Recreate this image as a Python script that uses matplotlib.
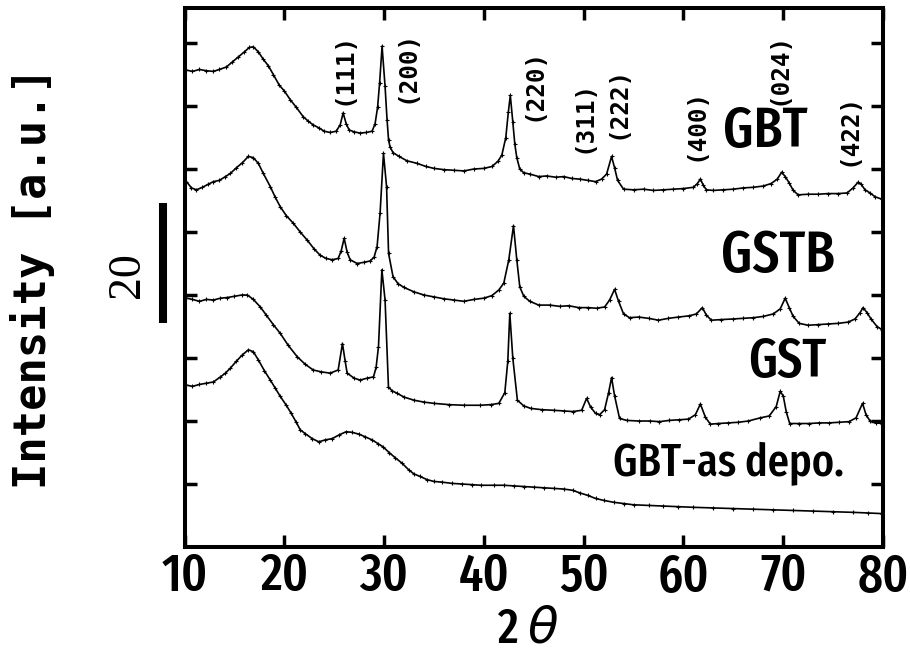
import matplotlib
matplotlib.use("Agg")
import matplotlib.pyplot as plt
import matplotlib.transforms as mtransforms

# ---------------- data ----------------
GBT_X = [10.2, 10.8, 11.5, 12.2, 12.9, 13.5, 14.2, 14.8, 15.4, 16.0, 16.5, 16.9, 17.4, 17.9,
         18.4, 18.9, 19.5, 20.0, 20.6, 21.2, 21.9, 22.4, 22.9, 23.5, 24.0, 24.6, 25.2, 25.6,
         25.9, 26.2, 26.5, 27.0, 27.6, 28.2, 28.8, 29.1, 29.35, 29.55, 29.8, 30.1, 30.3, 30.45,
         30.6, 30.9, 31.5, 32.3, 33.3, 34.2, 35.0, 36.0, 37.0, 38.0, 39.0, 40.0, 40.8, 41.4,
         41.8, 42.2, 42.45, 42.65, 42.9, 43.1, 43.3, 43.6, 44.0, 44.6, 45.5, 46.3, 47.2, 48.0,
         48.8, 49.6, 50.4, 51.2, 51.8, 52.3, 52.8, 53.1, 53.4, 54.0, 55.0, 56.0, 57.0, 58.0,
         59.0, 60.0, 61.0, 61.4, 61.7, 62.0, 62.3, 63.0, 64.0, 65.0, 66.0, 67.0, 68.0, 68.8,
         69.4, 69.85, 70.2, 70.6, 71.0, 71.5, 72.5, 73.5, 74.5, 75.5, 76.4, 77.0, 77.5, 77.8,
         78.2, 78.7, 79.2, 79.9]
GBT_Y = [7.57, 7.55, 7.58, 7.56, 7.55, 7.58, 7.62, 7.70, 7.78, 7.86, 7.93, 7.94, 7.86, 7.74,
         7.64, 7.50, 7.33, 7.24, 7.10, 6.98, 6.83, 6.76, 6.70, 6.65, 6.60, 6.58, 6.60, 6.70,
         6.89, 6.72, 6.62, 6.59, 6.57, 6.58, 6.60, 6.72, 6.98, 7.36, 7.95, 7.31, 6.78, 6.46,
         6.35, 6.26, 6.20, 6.13, 6.09, 6.04, 6.01, 5.99, 5.98, 5.97, 6.00, 6.01, 6.04, 6.12,
         6.22, 6.50, 6.90, 7.17, 6.75, 6.40, 6.18, 6.00, 5.94, 5.92, 5.88, 5.89, 5.87, 5.88,
         5.85, 5.84, 5.82, 5.80, 5.84, 5.92, 6.20, 6.02, 5.82, 5.68, 5.67, 5.68, 5.66, 5.67,
         5.68, 5.69, 5.71, 5.77, 5.84, 5.74, 5.67, 5.66, 5.67, 5.68, 5.70, 5.71, 5.73, 5.77,
         5.84, 5.95, 5.88, 5.78, 5.66, 5.59, 5.60, 5.60, 5.61, 5.61, 5.62, 5.70, 5.79, 5.76,
         5.67, 5.62, 5.56, 5.52]

GSTB_X = [10.2, 10.7, 11.2, 11.8, 12.4, 12.9, 13.5, 14.1, 14.6, 15.2, 15.8, 16.4, 16.9, 17.4,
          17.9, 18.6, 19.1, 19.6, 20.2, 20.9, 21.6, 22.3, 23.0, 23.6, 24.2, 24.8, 25.4, 25.7,
          26.0, 26.3, 26.6, 27.3, 28.0, 28.6, 29.0, 29.3, 29.6, 29.94, 30.25, 30.45, 30.9, 31.4,
          32.0, 33.0, 34.0, 35.0, 36.0, 37.0, 38.0, 39.0, 40.0, 40.8, 41.5, 42.0, 42.5, 42.97,
          43.3, 43.6, 44.0, 44.6, 45.5, 46.6, 47.6, 48.5, 49.5, 50.4, 51.3, 52.1, 52.6, 53.1,
          53.5, 54.0, 54.6, 55.5, 56.5, 57.5, 58.5, 59.5, 60.6, 61.3, 61.9, 62.3, 62.8, 63.8,
          65.0, 66.0, 67.0, 68.0, 69.0, 69.7, 70.2, 70.6, 71.0, 71.6, 72.5, 73.5, 74.5, 75.5,
          76.5, 77.2, 77.7, 78.0, 78.4, 78.8, 79.4, 79.9]
GSTB_Y = [5.80, 5.70, 5.67, 5.71, 5.76, 5.80, 5.82, 5.88, 5.93, 6.02, 6.10, 6.20, 6.18, 6.09,
          5.93, 5.72, 5.55, 5.40, 5.26, 5.14, 5.00, 4.87, 4.73, 4.63, 4.58, 4.56, 4.58, 4.70,
          4.90, 4.68, 4.56, 4.50, 4.52, 4.54, 4.60, 4.77, 5.30, 6.25, 5.72, 4.66, 4.29, 4.18,
          4.12, 4.05, 4.00, 3.97, 3.94, 3.92, 3.90, 3.93, 3.95, 3.99, 4.08, 4.19, 4.56, 5.10,
          4.56, 4.13, 3.98, 3.90, 3.84, 3.84, 3.82, 3.83, 3.80, 3.80, 3.79, 3.81, 3.92, 4.09,
          3.90, 3.70, 3.64, 3.65, 3.63, 3.60, 3.63, 3.65, 3.67, 3.70, 3.80, 3.68, 3.60, 3.61,
          3.62, 3.63, 3.64, 3.66, 3.70, 3.78, 3.95, 3.80, 3.66, 3.55, 3.52, 3.53, 3.54, 3.55,
          3.57, 3.62, 3.72, 3.80, 3.72, 3.62, 3.50, 3.45]

GST_X = [10.2, 10.8, 11.5, 12.2, 12.9, 13.6, 14.3, 15.0, 15.75, 16.3, 16.9, 17.6, 18.2, 18.9,
         19.6, 20.4, 21.3, 22.1, 22.9, 23.7, 24.6, 25.4, 25.83, 26.1, 26.3, 27.0, 27.6, 28.3,
         28.94, 29.2, 29.44, 29.78, 30.1, 30.44, 30.8, 31.3, 32.0, 33.0, 34.0, 35.0, 36.5, 38.0,
         39.65, 40.7, 41.5, 42.1, 42.4, 42.6, 42.9, 43.36, 44.0, 44.7, 45.8, 47.0, 48.0, 48.9,
         49.8, 50.3, 50.7, 51.2, 51.6, 52.1, 52.5, 52.8, 53.1, 53.6, 54.3, 55.5, 56.6, 57.6,
         58.6, 59.6, 60.5, 61.2, 61.7, 62.2, 62.7, 63.5, 64.5, 65.5, 66.5, 67.7, 68.6, 69.3,
         69.7, 70.0, 70.3, 70.65, 71.6, 72.6, 73.6, 74.6, 75.6, 76.6, 77.3, 77.95, 78.3, 78.7,
         79.3, 79.9]
GST_Y = [3.95, 3.93, 3.90, 3.93, 3.92, 3.95, 3.96, 3.98, 4.00, 4.00, 3.93, 3.81, 3.68, 3.53,
         3.39, 3.20, 3.02, 2.90, 2.81, 2.78, 2.76, 2.81, 3.23, 2.95, 2.76, 2.68, 2.65, 2.68,
         2.70, 2.85, 3.18, 4.40, 3.92, 2.54, 2.48, 2.44, 2.38, 2.33, 2.30, 2.28, 2.26, 2.25,
         2.25, 2.26, 2.28, 2.45, 2.95, 3.71, 3.00, 2.33, 2.24, 2.20, 2.18, 2.17, 2.16, 2.15,
         2.17, 2.36, 2.22, 2.12, 2.10, 2.18, 2.45, 2.69, 2.40, 2.04, 2.01, 2.00, 2.00, 1.99,
         2.01, 2.02, 2.03, 2.10, 2.27, 2.06, 1.95, 1.96, 1.97, 1.98, 2.00, 2.05, 2.08, 2.23,
         2.47, 2.40, 2.15, 1.96, 1.96, 1.96, 1.97, 1.97, 1.98, 1.99, 2.05, 2.28, 2.10, 2.00,
         1.97, 1.96]

DEPO_X = [10.2, 10.8, 11.5, 12.2, 12.9, 13.6, 14.1, 14.6, 15.2, 15.8, 16.4, 16.9, 17.4, 18.0,
          18.6, 19.1, 19.6, 20.2, 20.7, 21.2, 21.6, 22.1, 22.8, 23.46, 24.1, 24.8, 25.5, 26.2,
          26.8, 27.5, 28.1, 28.8, 29.4, 29.9, 30.5, 31.1, 31.8, 32.5, 33.0, 33.6, 34.3, 35.0,
          35.8, 36.8, 37.8, 38.8, 39.7, 41.0, 42.0, 43.0, 44.0, 45.0, 46.0, 47.0, 48.0, 48.9,
          49.6, 50.4, 51.2, 52.0, 53.0, 54.0, 55.0, 56.5, 58.0, 59.5, 61.0, 63.0, 65.0, 67.0,
          69.0, 71.0, 73.0, 75.0, 77.0, 78.5, 79.9]
DEPO_Y = [2.57, 2.55, 2.58, 2.60, 2.62, 2.70, 2.76, 2.84, 2.95, 3.05, 3.13, 3.10, 2.97, 2.80,
          2.65, 2.52, 2.39, 2.25, 2.12, 1.98, 1.86, 1.80, 1.72, 1.67, 1.70, 1.72, 1.78, 1.83,
          1.82, 1.79, 1.75, 1.70, 1.64, 1.59, 1.50, 1.42, 1.33, 1.22, 1.16, 1.12, 1.07, 1.04,
          1.03, 1.01, 1.00, 0.99, 0.98, 0.98, 0.98, 0.97, 0.96, 0.95, 0.94, 0.93, 0.92, 0.90,
          0.86, 0.82, 0.77, 0.74, 0.71, 0.69, 0.67, 0.66, 0.65, 0.64, 0.63, 0.62, 0.61, 0.60,
          0.59, 0.58, 0.57, 0.56, 0.55, 0.54, 0.53]

SAMPLE_NAMES = ["GBT", "GSTB", "GST", "GBT-as depo."]
SAMPLE_LABEL_X = [68.2, 69.5, 70.36, 64.5]
SAMPLE_LABEL_Y = [6.35, 4.37, 2.70, 1.116]
SAMPLE_LABEL_SIZE = [41, 42, 39, 33]

PEAK_LABELS = ["(111)", "(200)", "(220)", "(311)", "(222)", "(400)", "(024)", "(422)"]
PEAK_LABEL_X = [25.9, 32.2, 45.0, 49.95, 53.4, 61.2, 69.5, 76.5]
PEAK_LABEL_Y = [7.60, 7.63, 7.35, 6.83, 7.05, 6.70, 7.60, 6.63]

X_TICKS = [10, 20, 30, 40, 50, 60, 70, 80]
Y_TICKS = [1, 2, 3, 4, 5, 6, 7, 8]
X_LIM = (10, 80)
Y_LIM = (0, 8.556)

SCALE_BAR_LABEL = "20"
SCALE_BAR_Y = (3.556, 5.46)

# ---------------- figure ----------------
COND = ["Fira Sans Extra Condensed", "Barlow Condensed", "Archivo Narrow", "DejaVu Sans"]
MONO = ["DejaVu Sans Mono"]
W = 500

fig = plt.figure(figsize=(9.1, 6.54), dpi=100)
ax = fig.add_axes([184.5 / 910, 1 - 547 / 654, (883 - 184.5) / 910, (547 - 8) / 654])

for xs, ys in [(GBT_X, GBT_Y), (GSTB_X, GSTB_Y), (GST_X, GST_Y), (DEPO_X, DEPO_Y)]:
    ax.plot(xs, ys, color="black", lw=1.2, marker="+", ms=3.5, mew=0.8)

ax.set_xlim(*X_LIM)
ax.set_ylim(*Y_LIM)
ax.set_xticks(X_TICKS)
ax.set_xticklabels([str(t) for t in X_TICKS], family=COND, fontsize=38, weight=W)
ax.set_yticks(Y_TICKS)
ax.set_yticklabels([])
ax.tick_params(axis="both", which="major", direction="in", length=8.6, width=2.5,
               top=True, right=True, left=True, bottom=True)
ax.tick_params(axis="x", pad=3)
for sp in ax.spines.values():
    sp.set_linewidth(2.9)

ax.set_xlabel("2 $\\theta$", family=COND, fontsize=36, weight=W)
ax.xaxis.set_label_coords(0.492, -0.108)

# y-axis title
fig.text(33 / 910, 1 - 278 / 654, "Intensity [a.u.]", rotation=90, ha="center", va="center",
         family=MONO, fontsize=31.5, weight="bold")

# scale bar
trans = mtransforms.blended_transform_factory(ax.transAxes, ax.transData)
ax.plot([-0.0308, -0.0308], list(SCALE_BAR_Y), color="black", lw=5.8,
        solid_capstyle="butt", transform=trans, clip_on=False)
ax.text(-0.0809, 4.32, SCALE_BAR_LABEL, transform=trans, rotation=90, ha="center",
        va="center", family=["Liberation Serif", "DejaVu Serif"], fontsize=33)

# sample names
for name, x, y, s in zip(SAMPLE_NAMES, SAMPLE_LABEL_X, SAMPLE_LABEL_Y, SAMPLE_LABEL_SIZE):
    ax.text(x, y, name, ha="center", va="baseline", family=COND, fontsize=s, weight=W)

# peak indices
for lab, x, y in zip(PEAK_LABELS, PEAK_LABEL_X, PEAK_LABEL_Y):
    ax.text(x, y, lab, rotation=90, ha="center", va="center", family=MONO,
            fontsize=17.5, weight="bold")

fig.savefig("out.png", dpi=100)
